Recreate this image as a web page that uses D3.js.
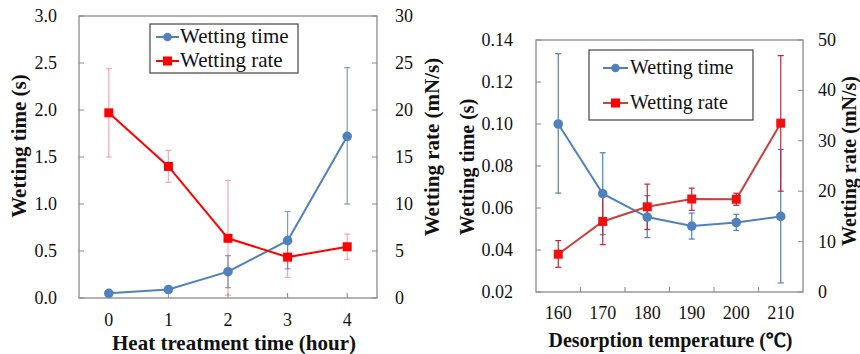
<!DOCTYPE html>
<html><head><meta charset="utf-8"><script src="https://cdn.jsdelivr.net/npm/d3@7"></script></head>
<body style="margin:0">
<svg id="chart" width="860" height="354" font-family="serif"></svg>
<script>
// ---------- Data: left chart (heat treatment) ----------
const heatHours = [0, 1, 2, 3, 4];
const heatTimeVals = [0.05, 0.09, 0.28, 0.61, 1.72];
const heatTimeLow  = [0.03, 0.06, 0.11, 0.31, 1.00];
const heatTimeHigh = [0.07, 0.12, 0.45, 0.92, 2.45];
const heatRateVals = [19.7, 14.0, 6.35, 4.35, 5.45];
const heatRateLow  = [15.0, 12.3, 0.3, 2.2, 4.1];
const heatRateHigh = [24.4, 15.7, 12.5, 6.5, 6.8];
const heatLeftTicks = [0, 0.5, 1.0, 1.5, 2.0, 2.5, 3.0];
const heatRightTicks = [0, 5, 10, 15, 20, 25, 30];

// ---------- Data: right chart (desorption temperature) ----------
const desTemps = ["160", "170", "180", "190", "200", "210"];
const desTimeVals = [0.100, 0.0668, 0.0557, 0.0514, 0.0531, 0.056];
const desTimeLow  = [0.0671, 0.0473, 0.0459, 0.0452, 0.0493, 0.0243];
const desTimeHigh = [0.1335, 0.0863, 0.0659, 0.0576, 0.0570, 0.0879];
const desRateVals = [7.5, 14.0, 16.9, 18.45, 18.4, 33.5];
const desRateLow  = [4.9, 9.4, 12.4, 16.2, 17.2, 20.0];
const desRateHigh = [10.2, 19.0, 21.4, 20.6, 19.6, 46.9];
const desLeftTicks = [0.02, 0.04, 0.06, 0.08, 0.10, 0.12, 0.14];
const desRightTicks = [0, 10, 20, 30, 40, 50];

const legendLabels = ["Wetting time", "Wetting rate"];

const svg = d3.select("#chart");
const BLUE = "#4F81BD";
const RED = "#FF0000";
const AXIS = "#8a8a8a";

let FONT = "Times New Roman";
function txt(sel) { return sel.attr("font-family", FONT).style("font-family", FONT).attr("fill", "#111"); }

function drawAxisLabels(g, ticks, fmt, xf, yf, anchor, size) {
  ticks.forEach(t => {
    g.append("text").attr("x", xf(t)).attr("y", yf(t)).attr("text-anchor", anchor)
      .attr("font-size", size).call(txt).text(fmt(t));
  });
}
function drawTicks(g, vals, pos, orient, base, len) {
  vals.forEach(v => {
    const p = pos(v);
    if (orient === "h") g.append("line").attr("x1", base).attr("x2", base + len).attr("y1", p).attr("y2", p).attr("stroke", AXIS);
    else g.append("line").attr("x1", p).attr("x2", p).attr("y1", base).attr("y2", base + len).attr("stroke", AXIS);
  });
}

function drawErr(g, xs, ys, lows, highs, color, opacity) {
  const grp = g.append("g").attr("stroke", color).attr("stroke-width", 1.2).attr("opacity", opacity);
  xs.forEach((x, i) => {
    const y1 = ys(lows[i]), y2 = ys(highs[i]);
    grp.append("line").attr("x1", x).attr("x2", x).attr("y1", y1).attr("y2", y2);
    grp.append("line").attr("x1", x - 3).attr("x2", x + 3).attr("y1", y1).attr("y2", y1);
    grp.append("line").attr("x1", x - 3).attr("x2", x + 3).attr("y1", y2).attr("y2", y2);
  });
}

function drawSeries(g, xs, ys, vals, lineColor, markerColor, shape) {
  const pts = vals.map((v, i) => [xs[i], ys(v)]);
  g.append("path").attr("d", d3.line()(pts)).attr("fill", "none")
    .attr("stroke", lineColor).attr("stroke-width", 2);
  pts.forEach(p => {
    if (shape === "circle") {
      g.append("circle").attr("cx", p[0]).attr("cy", p[1]).attr("r", 4.8).attr("fill", markerColor);
    } else {
      g.append("rect").attr("x", p[0] - 4.5).attr("y", p[1] - 4.5).attr("width", 9).attr("height", 9).attr("fill", markerColor);
    }
  });
}

function drawLegend(g, box, rows, symX, textX, fontSize, redLine) {
  g.append("rect").attr("x", box.x).attr("y", box.y).attr("width", box.w).attr("height", box.h)
    .attr("fill", "#fff").attr("stroke", "#444").attr("stroke-width", 1.2);
  const cols = [[BLUE, BLUE, "circle"], [redLine, RED, "rect"]];
  rows.forEach((r, i) => {
    const [lc, mc, shape] = cols[i];
    g.append("line").attr("x1", symX[0]).attr("x2", symX[1]).attr("y1", r.sy).attr("y2", r.sy)
      .attr("stroke", lc).attr("stroke-width", 2);
    const cx = (symX[0] + symX[1]) / 2;
    if (shape === "circle") g.append("circle").attr("cx", cx).attr("cy", r.sy).attr("r", 4.3).attr("fill", mc);
    else g.append("rect").attr("x", cx - 4.5).attr("y", r.sy - 4.5).attr("width", 9).attr("height", 9).attr("fill", mc);
    g.append("text").attr("x", textX).attr("y", r.ty).attr("font-size", fontSize).call(txt).text(legendLabels[i]);
  });
}

// ================= Left chart =================
(function () {
  const L = 79, R = 377, T = 16, B = 298;
  const g = svg.append("g");
  const x = d3.scaleLinear().domain([-0.5, 4.5]).range([L, R]);
  const yL = d3.scaleLinear().domain([0, 3]).range([B, T]);
  const yR = d3.scaleLinear().domain([0, 30]).range([B, T]);

  g.append("rect").attr("x", L).attr("y", T).attr("width", R - L).attr("height", B - T)
    .attr("fill", "none").attr("stroke", AXIS).attr("stroke-width", 1.3);

  drawTicks(g, heatLeftTicks, yL, "h", L, 5);
  drawTicks(g, heatRightTicks, yR, "h", R, -5);
  drawTicks(g, heatHours, x, "v", B, -5);
  drawAxisLabels(g, heatLeftTicks, d3.format(".1f"), () => L - 22, t => yL(t) + 6, "end", 18);
  drawAxisLabels(g, heatRightTicks, d3.format("d"), () => R + 18, t => yR(t) + 6, "start", 18);
  drawAxisLabels(g, heatHours, d3.format("d"), t => x(t), () => B + 28, "middle", 18);

  const xs = heatHours.map(h => x(h));
  drawErr(g, xs, yR, heatRateLow, heatRateHigh, "#F07080", 0.6);
  drawErr(g, xs, yL, heatTimeLow, heatTimeHigh, "#5577aa", 0.75);
  drawSeries(g, xs, yL, heatTimeVals, BLUE, BLUE, "circle");
  drawSeries(g, xs, yR, heatRateVals, RED, RED, "rect");

  drawLegend(g, {x: 150, y: 24, w: 148, h: 49},
    [{sy: 37, ty: 43}, {sy: 61, ty: 67}], [156, 179], 180, 21, RED);

  g.append("text").attr("x", (L + R) / 2 + 6).attr("y", 350).attr("text-anchor", "middle")
    .attr("font-size", 21).attr("font-weight", "bold").call(txt).text("Heat treatment time (hour)");
  g.append("text").attr("transform", "translate(26,146) rotate(-90)")
    .attr("text-anchor", "middle").attr("font-size", 21).attr("font-weight", "bold").call(txt).text("Wetting time (s)");
  g.append("text").attr("transform", "translate(439,147) rotate(-90)")
    .attr("text-anchor", "middle").attr("font-size", 21).attr("font-weight", "bold").call(txt).text("Wetting rate (mN/s)");
})();

FONT = "serif";
// ================= Right chart =================
(function () {
  const L = 536, R = 803, T = 40, B = 292;
  const g = svg.append("g");
  const x = d3.scaleBand().domain(desTemps).range([L, R]);
  const yL = d3.scaleLinear().domain([0.02, 0.14]).range([B, T]);
  const yR = d3.scaleLinear().domain([0, 50]).range([B, T]);

  g.append("rect").attr("x", L).attr("y", T).attr("width", R - L).attr("height", B - T)
    .attr("fill", "none").attr("stroke", AXIS).attr("stroke-width", 1.3);

  drawTicks(g, desLeftTicks, yL, "h", L, 5);
  drawTicks(g, desRightTicks, yR, "h", R, -5);
  drawTicks(g, desTemps.slice(1), x, "v", B, -5);   // category boundaries
  const mid = t => x(t) + x.bandwidth() / 2;
  drawAxisLabels(g, desLeftTicks, d3.format(".2f"), () => L - 23, t => yL(t) + 6, "end", 18);
  drawAxisLabels(g, desRightTicks, d3.format("d"), () => R + 15, t => yR(t) + 6, "start", 18);
  drawAxisLabels(g, desTemps, d => d, mid, () => B + 27, "middle", 18);

  const xs = desTemps.map(mid);
  drawErr(g, xs, yL, desTimeLow, desTimeHigh, BLUE, 1);
  drawErr(g, xs, yR, desRateLow, desRateHigh, "#CC2233", 1);
  drawSeries(g, xs, yL, desTimeVals, BLUE, BLUE, "circle");
  drawSeries(g, xs, yR, desRateVals, "#C8403F", "#EE1111", "rect");

  drawLegend(g, {x: 589, y: 50, w: 164, h: 70},
    [{sy: 68, ty: 74}, {sy: 103, ty: 109}], [603, 628], 630, 20, "#C8403F");

  g.append("text").attr("x", (L + R) / 2 + 1).attr("y", 347).attr("text-anchor", "middle")
    .attr("font-size", 20).attr("font-weight", "bold").call(txt).text("Desorption temperature (℃)");
  g.append("text").attr("transform", "translate(474,167) rotate(-90)")
    .attr("text-anchor", "middle").attr("font-size", 20).attr("font-weight", "bold").call(txt).text("Wetting time (s)");
  g.append("text").attr("transform", "translate(856,161) rotate(-90)")
    .attr("text-anchor", "middle").attr("font-size", 20).attr("font-weight", "bold").call(txt).text("Wetting rate (mN/s)");
})();
</script>
</body>
</html>
